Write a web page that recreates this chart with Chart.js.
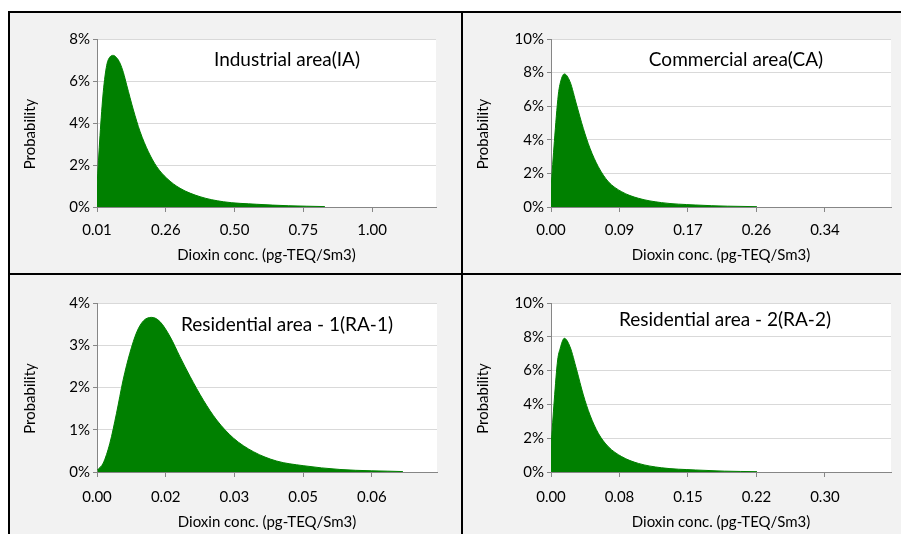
<!DOCTYPE html>
<html><head><meta charset="utf-8">
<script src="https://cdn.jsdelivr.net/npm/chart.js@4"></script>
<style>
html,body{margin:0;padding:0;background:#fff;}
#wrap{position:relative;width:901px;height:534px;overflow:hidden;background:#fff;}
.frame{position:absolute;left:8px;top:11px;width:893px;height:523px;background:#f2f2f2;border-left:2px solid #000;border-top:2px solid #000;box-sizing:border-box;}
.vline{position:absolute;left:461px;top:11px;width:2px;height:523px;background:#000;}
.hline{position:absolute;left:8px;top:273px;width:893px;height:2px;background:#000;}
canvas{position:absolute;}
</style></head>
<body>
<div id="wrap">
  <div class="frame"></div>
  <div class="vline"></div>
  <div class="hline"></div>
  <canvas id="c1" width="451" height="260" style="left:10px;top:13px"></canvas>
  <canvas id="c2" width="438" height="260" style="left:463px;top:13px"></canvas>
  <canvas id="c3" width="451" height="259" style="left:10px;top:275px"></canvas>
  <canvas id="c4" width="438" height="259" style="left:463px;top:275px"></canvas>
</div>
<script>
// ---- Data ----
const xAxisTitle = 'Dioxin conc. (pg-TEQ/Sm3)';
const yAxisTitle = 'Probability';

// Industrial area (IA)
const iaConc = [0.01, 0.0208, 0.0327, 0.045, 0.057, 0.0687, 0.080, 0.0928, 0.105, 0.117, 0.141, 0.165, 0.195, 0.225, 0.261, 0.309, 0.381, 0.465, 0.585, 0.70, 0.83];
const iaProb = [1.0, 3.4, 5.5, 6.75, 7.15, 7.22, 7.12, 6.85, 6.4, 5.8, 4.62, 3.59, 2.63, 1.92, 1.37, 0.89, 0.49, 0.25, 0.13, 0.06, 0.02];
const iaTickVals = [0.01, 0.2575, 0.505, 0.7525, 1.0];
const iaTickLabels = ['0.01', '0.26', '0.50', '0.75', '1.00'];

// Commercial area (CA)
const caConc = [0, 0.0042, 0.0091, 0.0112, 0.0166, 0.0237, 0.032, 0.0403, 0.0487, 0.059, 0.0715, 0.0882, 0.109, 0.138, 0.18, 0.22, 0.257];
const caProb = [1.1, 3.9, 6.67, 7.3, 7.92, 7.46, 6.07, 4.68, 3.49, 2.40, 1.51, 0.91, 0.52, 0.26, 0.12, 0.05, 0.02];
const caTickVals = [0, 0.0855, 0.171, 0.2565, 0.342];
const caTickLabels = ['0.00', '0.09', '0.17', '0.26', '0.34'];

// Residential area - 1 (RA-1)
const ra1Conc = [0.0001, 0.0014, 0.0029, 0.0044, 0.0059, 0.0074, 0.009, 0.0105, 0.0123, 0.0142, 0.0165, 0.0187, 0.021, 0.024, 0.027, 0.0308, 0.0353, 0.0405, 0.0465, 0.0548, 0.069];
const ra1Prob = [0.05, 0.21, 0.68, 1.39, 2.18, 2.81, 3.32, 3.58, 3.66, 3.56, 3.20, 2.73, 2.26, 1.70, 1.23, 0.80, 0.48, 0.26, 0.15, 0.06, 0.01];
const ra1TickVals = [0, 0.0155, 0.031, 0.0465, 0.062];
const ra1TickLabels = ['0.00', '0.02', '0.03', '0.05', '0.06'];

// Residential area - 2 (RA-2)
const ra2Conc = [0, 0.0036, 0.0073, 0.0100, 0.0146, 0.0208, 0.0281, 0.0354, 0.0427, 0.0518, 0.0627, 0.0774, 0.0956, 0.121, 0.158, 0.19, 0.2256];
const ra2Prob = [1.5, 4.26, 6.63, 7.3, 7.91, 7.41, 6.04, 4.56, 3.37, 2.29, 1.50, 0.91, 0.51, 0.25, 0.12, 0.05, 0.02];
const ra2TickVals = [0, 0.075, 0.15, 0.225, 0.30];
const ra2TickLabels = ['0.00', '0.08', '0.15', '0.22', '0.30'];

// ---- Rendering ----
const FONT = 'Lato, "Open Sans", sans-serif';
const GREEN = '#008000';
const FS = 15;

const deco = {
  id: 'deco',
  beforeDraw(chart, args, o) {
    const {ctx, chartArea: a} = chart;
    ctx.save();
    ctx.fillStyle = '#ffffff';
    ctx.fillRect(a.left, a.top, a.right - a.left, a.bottom - a.top);
    ctx.restore();
  },
  afterDraw(chart, args, o) {
    const {ctx, chartArea: a} = chart;
    ctx.save();
    ctx.fillStyle = '#000';
    ctx.textAlign = 'center';
    ctx.textBaseline = 'middle';
    ctx.font = '19px ' + FONT;
    ctx.fillText(o.title, a.left + o.titleDx, a.top + o.titleDy);
    ctx.font = FS + 'px ' + FONT;
    ctx.translate(o.yTitleX, (a.top + a.bottom) / 2 + 11);
    ctx.rotate(-Math.PI / 2);
    ctx.fillText(yAxisTitle, 0, 0);
    ctx.restore();
  }
};

function panel(id, xs, ys, xMax, tickVals, tickLabels, yMax, yStep, title, lay) {
  new Chart(document.getElementById(id), {
    type: 'line',
    data: { datasets: [{
      data: xs.map((x, i) => ({x: x, y: ys[i]})),
      fill: 'origin',
      backgroundColor: GREEN,
      borderColor: GREEN,
      borderWidth: 1,
      pointRadius: 0,
      cubicInterpolationMode: 'monotone'
    }]},
    options: {
      responsive: false,
      animation: false,
      devicePixelRatio: 1,
      layout: { padding: { left: 0, top: lay.top, right: lay.right, bottom: 0 } },
      plugins: {
        legend: { display: false },
        tooltip: { enabled: false },
        deco: { title: title, titleDx: lay.tdx, titleDy: lay.tdy, yTitleX: 20 }
      },
      scales: {
        x: {
          type: 'linear', min: tickVals[0], max: xMax,
          afterBuildTicks: s => { s.ticks = tickVals.map(v => ({value: v})); },
          afterFit: s => { s.height = lay.xh; },
          ticks: { callback: (v, i) => tickLabels[i], autoSkip: false, maxRotation: 0,
                   font: { family: FONT, size: FS }, color: '#000', padding: lay.tp },
          grid: { drawOnChartArea: false, tickLength: 5, tickColor: '#868686' },
          border: { color: '#868686' },
          title: { display: true, text: xAxisTitle, color: '#000',
                   font: { family: FONT, size: FS }, padding: { top: 0, bottom: lay.xtb } }
        },
        y: {
          min: 0, max: yMax,
          afterFit: s => { s.width = lay.yw; },
          ticks: { stepSize: yStep, callback: v => v + '%',
                   font: { family: FONT, size: FS }, color: '#000', padding: 3 },
          grid: { color: '#d9d9d9', tickLength: 4, tickColor: '#868686' },
          border: { color: '#868686' }
        }
      }
    },
    plugins: [deco]
  });
}

panel('c1', iaConc, iaProb, 1.23, iaTickVals, iaTickLabels, 8, 2, 'Industrial area(IA)',
      {top: 26, right: 25, xh: 66, yw: 87, tp: 9.5, xtb: 9, tdx: 190, tdy: 21});
panel('c2', caConc, caProb, 0.4244, caTickVals, caTickLabels, 10, 2, 'Commercial area(CA)',
      {top: 26, right: 10, xh: 66, yw: 88, tp: 9.5, xtb: 9, tdx: 185, tdy: 21});
panel('c3', ra1Conc, ra1Prob, 0.0767, ra1TickVals, ra1TickLabels, 4, 1, 'Residential area - 1(RA-1)',
      {top: 28, right: 24, xh: 62, yw: 87, tp: 10.7, xtb: 3.3, tdx: 190, tdy: 22});
panel('c4', ra2Conc, ra2Prob, 0.3723, ra2TickVals, ra2TickLabels, 10, 2, 'Residential area - 2(RA-2)',
      {top: 28, right: 10, xh: 62, yw: 88, tp: 10.7, xtb: 3.3, tdx: 174, tdy: 17});
</script>
</body></html>
